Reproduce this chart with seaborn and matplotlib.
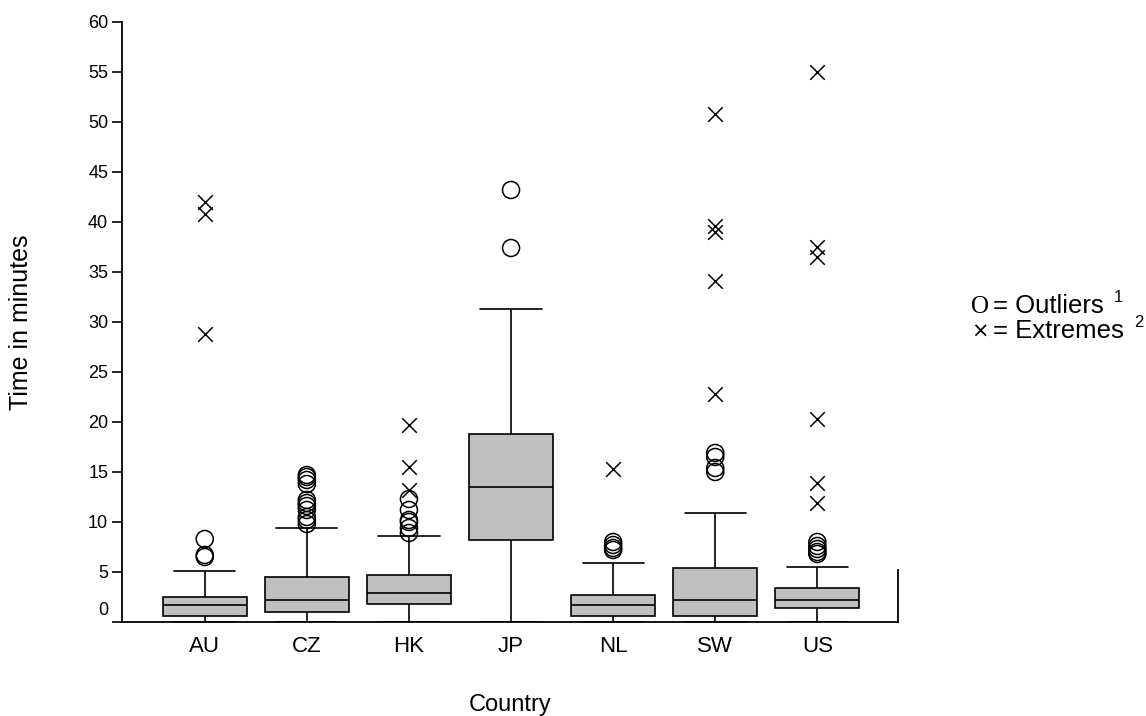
import numpy as np
import pandas as pd
import matplotlib
matplotlib.use("Agg")
import matplotlib.pyplot as plt
import matplotlib.transforms as mtransforms
import seaborn as sns

countries = ["AU", "CZ", "HK", "JP", "NL", "SW", "US"]

# box summaries
whisker_low = [0.0, 0.0, 0.0, 0.0, 0.0, 0.0, 0.0]
q1 = [0.6, 1.0, 1.8, 8.2, 0.6, 0.6, 1.4]
median = [1.7, 2.2, 2.9, 13.5, 1.7, 2.2, 2.2]
q3 = [2.5, 4.5, 4.7, 18.8, 2.7, 5.4, 3.4]
whisker_high = [5.1, 9.4, 8.6, 31.3, 5.9, 10.9, 5.5]

# circles (outliers) and crosses (extremes), one list per country
outliers = [
    [6.5, 6.7, 8.3],
    [9.8, 10.2, 10.5, 11.2, 11.6, 11.9, 12.2, 13.8, 14.2, 14.5, 14.7],
    [8.9, 9.4, 10.0, 10.2, 11.2, 12.3],
    [37.4, 43.2],
    [7.2, 7.4, 7.7, 8.0],
    [15.0, 15.4, 16.5, 16.9],
    [6.8, 7.0, 7.3, 7.6, 8.0],
]
extremes = [
    [28.8, 40.8, 42.0],
    [],
    [13.2, 15.5, 19.7],
    [],
    [15.3],
    [22.8, 34.1, 39.0, 39.6, 50.8],
    [11.9, 13.9, 20.3, 36.5, 37.5, 55.0],
]

SANS = "Liberation Sans"


def main():
    sns.set_theme(style="white")
    plt.rcParams["font.family"] = [SANS, "DejaVu Sans"]
    plt.rcParams["text.color"] = "black"

    # five values per country -> quartiles land exactly on the summaries
    box_rows = []
    for i, c in enumerate(countries):
        for v in (whisker_low[i], q1[i], median[i], q3[i], whisker_high[i]):
            box_rows.append({"country": c, "minutes": v})
    df_box = pd.DataFrame(box_rows)

    df_out = pd.DataFrame(
        [{"pos": i, "minutes": v} for i, vals in enumerate(outliers) for v in vals]
    )
    df_ext = pd.DataFrame(
        [{"pos": i, "minutes": v} for i, vals in enumerate(extremes) for v in vals]
    )

    fig = plt.figure(figsize=(11.46, 7.16), dpi=100)
    ax = fig.add_axes([0.1065, 0.1313, 0.6771, 0.838])

    sns.boxplot(
        data=df_box, x="country", y="minutes", order=countries,
        whis=(0, 100), width=0.82, color="#c0c0c0", saturation=1,
        linecolor="black", linewidth=1.2, showfliers=False,
        capwidths=0.6, ax=ax,
    )

    sns.scatterplot(
        data=df_out, x="pos", y="minutes", marker="o", s=150,
        facecolor="none", edgecolor="black", linewidth=1.1,
        zorder=4, ax=ax, legend=False,
    )
    sns.scatterplot(
        data=df_ext, x="pos", y="minutes", marker="x", s=110,
        color="black", linewidth=1.1, zorder=4, ax=ax, legend=False,
    )

    ax.set_xlim(-0.81, 6.79)
    ax.set_ylim(0, 60)
    ax.set_yticks(np.arange(0, 61, 5))
    ax.set_xticks(range(len(countries)))
    ax.set_xticklabels(countries, fontsize=16)
    ax.tick_params(axis="y", direction="out", length=7, width=1.2,
                   labelsize=13, left=True, pad=3, colors="black")
    ax.tick_params(axis="x", length=0, pad=10, colors="black")

    ax.spines["top"].set_visible(False)
    for side in ("left", "bottom", "right"):
        ax.spines[side].set_color("black")
        ax.spines[side].set_linewidth(1.3)
    ax.spines["right"].set_bounds(0, 5.2)

    ax.set_xlabel("Country", fontsize=17, color="black")
    ax.set_ylabel("Time in minutes", fontsize=18, color="black")
    ax.xaxis.set_label_coords(0.5, -0.12)
    ax.yaxis.set_label_coords(-0.115, 0.5)

    # SPSS puts the 0 label a bit above the baseline
    lab0 = ax.get_yticklabels()[0]
    lab0.set_transform(lab0.get_transform() +
                       mtransforms.ScaledTranslation(0, 0.13, fig.dpi_scale_trans))

    # key on the right: symbol, text, footnote number
    W, H = 1146, 716
    renderer = fig.canvas.get_renderer()
    key = [("O", "Liberation Serif", 18, "= Outliers", "1", 313),
           ("\u00d7", "DejaVu Sans", 15, "= Extremes", "2", 338)]
    for sym, sym_font, sym_size, txt, note, base in key:
        fig.text(971 / W, 1 - base / H, sym, family=[sym_font],
                 fontsize=sym_size, va="baseline", color="black")
        t = fig.text(993 / W, 1 - base / H, txt, fontsize=18.5, va="baseline",
                     color="black")
        x_end = t.get_window_extent(renderer).x1
        fig.text((x_end + 10) / W, 1 - (base - 11) / H, note, fontsize=12,
                 va="baseline", color="black")

    fig.savefig("out.png", dpi=100)


if __name__ == "__main__":
    main()
